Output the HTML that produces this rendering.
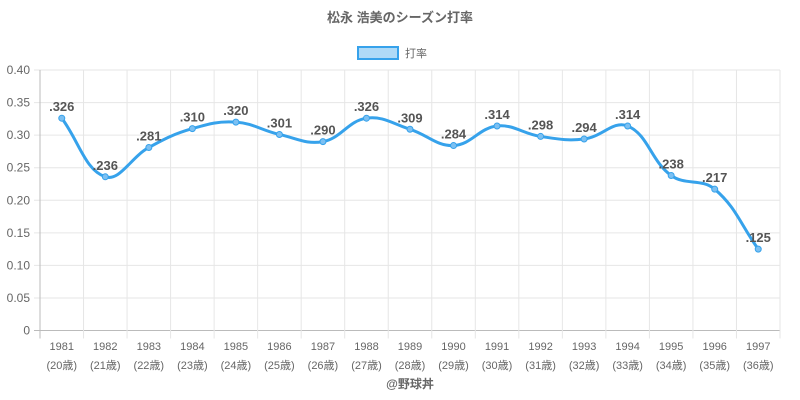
<!DOCTYPE html>
<html><head><meta charset="utf-8"><style>
body{margin:0;background:#fff;}
svg{display:block;font-family:"Liberation Sans","Noto Sans CJK JP",sans-serif;}
</style></head><body>
<svg id="c" width="800" height="400">
<text x="400" y="22" text-anchor="middle" font-size="13" font-weight="bold" fill="#666">松永 浩美のシーズン打率</text>
<g>
<rect x="358" y="47" width="40" height="12" fill="rgba(54,162,235,0.4)" stroke="#36a2eb" stroke-width="2"/>
<text x="405" y="57" font-size="11" fill="#666">打率</text>
</g>
<text x="410" y="388" text-anchor="middle" font-size="12" font-weight="bold" fill="#666">@野球丼</text>
</svg>
<script>
const years=["1981","1982","1983","1984","1985","1986","1987","1988","1989","1990","1991","1992","1993","1994","1995","1996","1997"];
const ages=["20","21","22","23","24","25","26","27","28","29","30","31","32","33","34","35","36"];
const values=[0.326,0.236,0.281,0.310,0.320,0.301,0.290,0.326,0.309,0.284,0.314,0.298,0.294,0.314,0.238,0.217,0.125];
const yTicks=[0,0.05,0.10,0.15,0.20,0.25,0.30,0.35,0.40];
const L=40,R=780,T=70,B=330.5,yMax=0.4;
const svg=document.getElementById('c');const NS='http://www.w3.org/2000/svg';
const bw=(R-L)/years.length;
const xs=i=>L+bw*(i+0.5);
const ys=v=>B-(v/yMax)*(B-T);
function mk(t,a,p){const e=document.createElementNS(NS,t);for(const k in a)e.setAttribute(k,a[k]);(p||svg).appendChild(e);return e;}
const grid=mk('g',{});


yTicks.forEach((t,i)=>{const y=ys(t);
mk('line',{x1:L-6,x2:R,y1:y,y2:y,stroke:i==0?'#bbb':'#e6e6e6','stroke-width':1},grid);
const tx=mk('text',{x:L-10,y:y+4,'text-anchor':'end','font-size':12,fill:'#666'});


tx.textContent=i==0?'0':t.toFixed(2);});
for(let i=0;i<=years.length;i++){const x=L+bw*i;
mk('line',{x1:x,x2:x,y1:T,y2:B+8,stroke:i==0?'#bbb':'#e6e6e6','stroke-width':1},grid);}
years.forEach((yr,i)=>{
const t1=mk('text',{x:xs(i),y:350,'text-anchor':'middle','font-size':11,fill:'#666'});


t1.textContent=yr;
const t2=mk('text',{x:xs(i),y:369,'text-anchor':'middle','font-size':11,fill:'#666'});


t2.textContent='('+ages[i]+'歳)';});
const pts=values.map((v,i)=>[xs(i),ys(v)]);
const ten=0.4;let d='M'+pts[0][0]+','+pts[0][1];
const cp=pts.map((p,i)=>{const pr=pts[Math.max(i-1,0)],nx=pts[Math.min(i+1,pts.length-1)];
const d01=Math.hypot(p[0]-pr[0],p[1]-pr[1]),d12=Math.hypot(nx[0]-p[0],nx[1]-p[1]);
let fa=d01/(d01+d12)||0,fb=d12/(d01+d12)||0;fa*=ten;fb*=ten;
return{pv:[p[0]-fa*(nx[0]-pr[0]),p[1]-fa*(nx[1]-pr[1])],nx:[p[0]+fb*(nx[0]-pr[0]),p[1]+fb*(nx[1]-pr[1])]};});
for(let i=1;i<pts.length;i++){d+=' C'+cp[i-1].nx.join(',')+' '+cp[i].pv.join(',')+' '+pts[i].join(',');}
const line=mk('path',{d:d,fill:'none',stroke:'#36a2eb','stroke-width':3});


values.forEach((v,i)=>{
const c=mk('circle',{cx:pts[i][0],cy:pts[i][1],r:3,fill:'#7cc0f2',stroke:'#36a2eb','stroke-width':1});


const t=mk('text',{x:pts[i][0],y:pts[i][1]-7,'text-anchor':'middle','font-size':13,'font-weight':'bold',fill:'#555'});


t.textContent=v.toFixed(3).replace(/^0/,'');});
</script>
</body></html>
